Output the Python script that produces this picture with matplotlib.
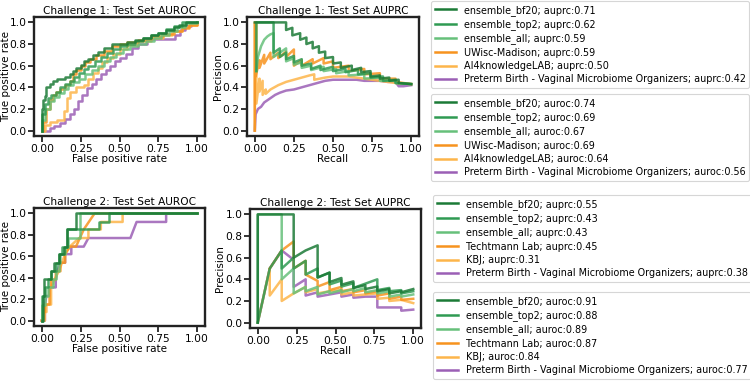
import matplotlib
matplotlib.use("Agg")
import matplotlib.pyplot as plt

# ---------------- colours / names ----------------
C_BF20 = "#1b7a36"
C_TOP2 = "#2f9a52"
C_ALL = "#66c07a"
C_OR1 = "#f7931e"
C_OR2 = "#fdb54a"
C_PUR = "#9b5fb5"

c1_names = ["ensemble_bf20", "ensemble_top2", "ensemble_all", "UWisc-Madison",
            "AI4knowledgeLAB", "Preterm Birth - Vaginal Microbiome Organizers"]
c1_auprc = [0.71, 0.62, 0.59, 0.59, 0.50, 0.42]
c1_auroc = [0.74, 0.69, 0.67, 0.69, 0.64, 0.56]
c2_names = ["ensemble_bf20", "ensemble_top2", "ensemble_all", "Techtmann Lab",
            "KBJ", "Preterm Birth - Vaginal Microbiome Organizers"]
c2_auprc = [0.55, 0.43, 0.43, 0.45, 0.31, 0.38]
c2_auroc = [0.91, 0.88, 0.89, 0.87, 0.84, 0.77]
colors = [C_BF20, C_TOP2, C_ALL, C_OR1, C_OR2, C_PUR]

# ---------------- Challenge 1 ROC (steps) ----------------
c1_roc_bf20_fpr = [0, 0, 0.01, 0.02, 0.03, 0.05, 0.07, 0.10, 0.15, 0.18, 0.20, 0.22, 0.25, 0.27, 0.30, 0.33, 0.36, 0.40, 0.45, 0.55, 0.60, 0.65, 0.70, 0.75, 0.80, 0.85, 0.88, 0.93, 1.0]
c1_roc_bf20_tpr = [0, 0.20, 0.28, 0.32, 0.40, 0.43, 0.46, 0.48, 0.50, 0.52, 0.55, 0.58, 0.61, 0.64, 0.66, 0.70, 0.73, 0.76, 0.80, 0.82, 0.84, 0.86, 0.88, 0.90, 0.93, 0.96, 0.98, 1.0, 1.0]
c1_roc_top2_fpr = [0, 0, 0.02, 0.04, 0.06, 0.09, 0.12, 0.15, 0.18, 0.21, 0.24, 0.27, 0.30, 0.34, 0.38, 0.42, 0.46, 0.50, 0.55, 0.60, 0.65, 0.70, 0.75, 0.80, 0.85, 0.90, 1.0]
c1_roc_top2_tpr = [0, 0.15, 0.25, 0.30, 0.33, 0.36, 0.40, 0.43, 0.46, 0.50, 0.53, 0.57, 0.60, 0.64, 0.68, 0.72, 0.75, 0.78, 0.80, 0.83, 0.86, 0.88, 0.90, 0.94, 0.97, 1.0, 1.0]
c1_roc_all_fpr = [0, 0, 0.02, 0.05, 0.08, 0.11, 0.14, 0.17, 0.20, 0.24, 0.28, 0.32, 0.36, 0.40, 0.44, 0.48, 0.52, 0.57, 0.62, 0.67, 0.72, 0.77, 0.82, 0.87, 0.92, 1.0]
c1_roc_all_tpr = [0, 0.10, 0.20, 0.27, 0.31, 0.35, 0.38, 0.42, 0.45, 0.48, 0.52, 0.56, 0.60, 0.64, 0.68, 0.72, 0.75, 0.78, 0.80, 0.83, 0.86, 0.88, 0.92, 0.96, 0.99, 1.0]
c1_roc_uw_fpr = [0, 0.01, 0.03, 0.05, 0.07, 0.09, 0.12, 0.15, 0.18, 0.20, 0.22, 0.25, 0.28, 0.31, 0.35, 0.40, 0.45, 0.50, 0.55, 0.62, 0.70, 0.78, 0.85, 0.90, 0.95, 1.0]
c1_roc_uw_tpr = [0, 0.08, 0.20, 0.28, 0.33, 0.36, 0.38, 0.42, 0.46, 0.52, 0.56, 0.60, 0.63, 0.66, 0.70, 0.74, 0.78, 0.80, 0.82, 0.84, 0.87, 0.89, 0.92, 0.95, 0.98, 1.0]
c1_roc_ai_fpr = [0, 0.02, 0.05, 0.10, 0.14, 0.16, 0.18, 0.22, 0.27, 0.30, 0.33, 0.36, 0.39, 0.42, 0.46, 0.50, 0.55, 0.62, 0.70, 0.78, 0.84, 0.90, 0.95, 1.0]
c1_roc_ai_tpr = [0, 0.05, 0.08, 0.10, 0.18, 0.30, 0.36, 0.40, 0.42, 0.48, 0.53, 0.58, 0.63, 0.67, 0.71, 0.75, 0.79, 0.83, 0.86, 0.88, 0.92, 0.96, 0.98, 1.0]
c1_roc_pur_fpr = [0, 0.05, 0.08, 0.12, 0.15, 0.18, 0.21, 0.23, 0.26, 0.29, 0.32, 0.35, 0.38, 0.41, 0.44, 0.47, 0.50, 0.54, 0.58, 0.62, 0.68, 0.86, 0.89, 0.92, 0.96, 1.0]
c1_roc_pur_tpr = [0, 0.02, 0.04, 0.07, 0.11, 0.15, 0.20, 0.27, 0.33, 0.39, 0.43, 0.48, 0.52, 0.56, 0.60, 0.64, 0.67, 0.71, 0.76, 0.80, 0.85, 0.88, 0.93, 0.97, 0.99, 1.0]

# ---------------- Challenge 1 PR ----------------
c1_pr_bf20_rec = [0, 0.20, 0.20, 0.24, 0.24, 0.29, 0.29, 0.33, 0.33, 0.37, 0.37, 0.41, 0.41, 0.45, 0.45, 0.50, 0.50, 0.55, 0.55, 0.62, 0.62, 0.68, 0.68, 0.74, 0.74, 0.80, 0.80, 0.86, 0.86, 0.92, 0.92, 1.0]
c1_pr_bf20_prec = [1.0, 1.0, 0.93, 0.95, 0.88, 0.90, 0.84, 0.86, 0.80, 0.82, 0.76, 0.78, 0.72, 0.73, 0.67, 0.68, 0.62, 0.63, 0.58, 0.60, 0.56, 0.58, 0.54, 0.55, 0.50, 0.51, 0.48, 0.49, 0.46, 0.47, 0.44, 0.43]
c1_pr_top2_rec = [0.01, 0.01, 0.12, 0.12, 0.16, 0.16, 0.20, 0.20, 0.25, 0.25, 0.30, 0.30, 0.36, 0.36, 0.42, 0.42, 0.50, 0.50, 0.58, 0.58, 0.66, 0.66, 0.74, 0.74, 0.82, 0.82, 0.90, 0.90, 1.0]
c1_pr_top2_prec = [0.55, 1.0, 1.0, 0.72, 0.76, 0.68, 0.72, 0.66, 0.69, 0.63, 0.66, 0.60, 0.62, 0.57, 0.60, 0.56, 0.59, 0.55, 0.57, 0.54, 0.56, 0.52, 0.53, 0.49, 0.50, 0.46, 0.47, 0.44, 0.43]
c1_pr_all_rec = [0.01, 0.02, 0.04, 0.06, 0.08, 0.10, 0.12, 0.12, 0.16, 0.20, 0.20, 0.25, 0.25, 0.30, 0.30, 0.36, 0.36, 0.44, 0.44, 0.52, 0.52, 0.60, 0.60, 0.70, 0.70, 0.80, 0.80, 0.90, 0.90, 1.0]
c1_pr_all_prec = [0.55, 0.68, 0.78, 0.84, 0.87, 0.89, 0.90, 0.68, 0.72, 0.76, 0.64, 0.67, 0.61, 0.63, 0.58, 0.60, 0.56, 0.59, 0.55, 0.57, 0.53, 0.55, 0.51, 0.52, 0.48, 0.49, 0.46, 0.46, 0.44, 0.43]
c1_pr_uw_rec = [0, 0, 0.005, 0.005, 0.03, 0.03, 0.06, 0.06, 0.10, 0.10, 0.15, 0.15, 0.20, 0.20, 0.25, 0.25, 0.30, 0.30, 0.37, 0.37, 0.44, 0.44, 0.50, 0.50, 0.60, 0.60, 0.70, 0.70, 0.80, 0.80, 0.90, 0.90, 1.0]
c1_pr_uw_prec = [0, 1.0, 1.0, 0.50, 0.65, 0.58, 0.70, 0.62, 0.72, 0.66, 0.72, 0.67, 0.73, 0.68, 0.75, 0.60, 0.65, 0.60, 0.66, 0.62, 0.67, 0.62, 0.64, 0.58, 0.60, 0.55, 0.57, 0.52, 0.53, 0.48, 0.48, 0.45, 0.43]
c1_pr_ai_rec = [0, 0, 0.01, 0.01, 0.03, 0.03, 0.05, 0.05, 0.07, 0.07, 0.10, 0.15, 0.20, 0.25, 0.30, 0.35, 0.38, 0.38, 0.45, 0.50, 0.55, 0.60, 0.65, 0.70, 0.80, 0.90, 1.0]
c1_pr_ai_prec = [0, 1.0, 1.0, 0.25, 0.48, 0.36, 0.46, 0.33, 0.38, 0.34, 0.38, 0.42, 0.45, 0.47, 0.49, 0.51, 0.52, 0.47, 0.49, 0.50, 0.50, 0.50, 0.49, 0.48, 0.46, 0.44, 0.43]
c1_pr_pur_rec = [0, 0.005, 0.02, 0.04, 0.06, 0.08, 0.10, 0.13, 0.16, 0.20, 0.25, 0.30, 0.35, 0.40, 0.45, 0.50, 0.55, 0.60, 0.65, 0.70, 0.75, 0.80, 0.85, 0.90, 0.92, 0.95, 1.0]
c1_pr_pur_prec = [0, 0.15, 0.20, 0.22, 0.26, 0.28, 0.30, 0.33, 0.35, 0.37, 0.38, 0.40, 0.42, 0.44, 0.46, 0.47, 0.47, 0.47, 0.47, 0.46, 0.46, 0.46, 0.45, 0.45, 0.41, 0.41, 0.42]

# ---------------- Challenge 2 ROC (polylines) ----------------
c2_roc_bf20_fpr = [0, 0.006, 0.006, 0.013, 0.013, 0.058, 0.058, 0.08, 0.08, 0.11, 0.11, 0.14, 0.14, 0.164, 0.164, 0.218, 0.218, 1.0]
c2_roc_bf20_tpr = [0, 0, 0.23, 0.23, 0.385, 0.385, 0.46, 0.46, 0.54, 0.54, 0.62, 0.62, 0.69, 0.69, 0.85, 0.85, 1.0, 1.0]
c2_roc_top2_fpr = [0, 0, 0.02, 0.02, 0.04, 0.04, 0.06, 0.06, 0.09, 0.09, 0.11, 0.11, 0.13, 0.13, 0.16, 0.16, 0.37, 0.37, 0.43, 0.43, 1.0]
c2_roc_top2_tpr = [0, 0.23, 0.23, 0.31, 0.31, 0.385, 0.385, 0.46, 0.46, 0.54, 0.54, 0.62, 0.62, 0.69, 0.69, 0.85, 0.85, 0.92, 0.92, 1.0, 1.0]
c2_roc_all_fpr = [0, 0, 0.02, 0.02, 0.04, 0.04, 0.07, 0.07, 0.09, 0.09, 0.11, 0.11, 0.12, 0.12, 0.15, 0.15, 0.17, 0.17, 0.245, 0.245, 1.0]
c2_roc_all_tpr = [0, 0.15, 0.15, 0.23, 0.23, 0.31, 0.31, 0.385, 0.385, 0.46, 0.46, 0.54, 0.54, 0.62, 0.62, 0.69, 0.69, 0.77, 0.77, 1.0, 1.0]
c2_roc_tl_fpr = [0, 0.01, 0.01, 0.02, 0.02, 0.05, 0.05, 0.06, 0.06, 0.09, 0.09, 0.12, 0.12, 0.15, 0.15, 0.18, 0.22, 0.27, 0.34, 1.0]
c2_roc_tl_tpr = [0, 0, 0.08, 0.08, 0.15, 0.15, 0.31, 0.31, 0.38, 0.38, 0.46, 0.46, 0.54, 0.54, 0.62, 0.69, 0.69, 0.85, 1.0, 1.0]
c2_roc_kbj_fpr = [0, 0.02, 0.02, 0.03, 0.03, 0.06, 0.06, 0.08, 0.11, 0.13, 0.15, 0.18, 0.24, 0.30, 0.30, 0.38, 0.38, 0.52, 0.52, 1.0]
c2_roc_kbj_tpr = [0, 0, 0.08, 0.08, 0.15, 0.15, 0.31, 0.38, 0.46, 0.54, 0.62, 0.69, 0.77, 0.77, 0.85, 0.85, 0.92, 0.92, 1.0, 1.0]
c2_roc_pur_fpr = [0, 0.02, 0.02, 0.03, 0.05, 0.05, 0.09, 0.09, 0.10, 0.12, 0.15, 0.15, 0.19, 0.19, 0.27, 0.30, 0.57, 0.61, 0.80, 0.80, 1.0]
c2_roc_pur_tpr = [0, 0, 0.15, 0.23, 0.23, 0.31, 0.31, 0.38, 0.46, 0.54, 0.54, 0.62, 0.62, 0.69, 0.69, 0.77, 0.77, 0.92, 0.92, 1.0, 1.0]

# ---------------- Challenge 2 PR (polylines) ----------------
c2_pr_bf20_rec = [0, 0, 0.231, 0.231, 0.308, 0.385, 0.385, 0.462, 0.462, 0.538, 0.538, 0.615, 0.615, 0.692, 0.692, 0.769, 0.769, 0.846, 0.846, 0.923, 0.923, 1.0]
c2_pr_bf20_prec = [0, 1.0, 1.0, 0.60, 0.667, 0.714, 0.417, 0.462, 0.375, 0.412, 0.35, 0.381, 0.32, 0.346, 0.31, 0.333, 0.29, 0.31, 0.27, 0.29, 0.28, 0.31]
c2_pr_top2_rec = [0, 0.077, 0.154, 0.154, 0.231, 0.231, 0.308, 0.308, 0.385, 0.385, 0.462, 0.462, 0.538, 0.538, 0.615, 0.615, 0.769, 0.769, 0.846, 0.846, 0.923, 0.923, 1.0]
c2_pr_top2_prec = [0, 0.5, 0.667, 0.5, 0.6, 0.5, 0.571, 0.444, 0.5, 0.417, 0.462, 0.353, 0.389, 0.333, 0.364, 0.32, 0.40, 0.30, 0.32, 0.29, 0.30, 0.27, 0.29]
c2_pr_all_rec = [0, 0, 0.154, 0.154, 0.231, 0.231, 0.308, 0.308, 0.385, 0.385, 0.462, 0.462, 0.538, 0.538, 0.615, 0.615, 0.692, 0.692, 0.769, 0.769, 0.846, 0.846, 0.923, 0.923, 1.0]
c2_pr_all_prec = [0, 1.0, 1.0, 0.4, 0.5, 0.27, 0.33, 0.29, 0.33, 0.26, 0.29, 0.27, 0.30, 0.28, 0.31, 0.29, 0.32, 0.28, 0.30, 0.27, 0.29, 0.24, 0.26, 0.24, 0.26]
c2_pr_tl_rec = [0.077, 0.154, 0.231, 0.231, 0.308, 0.308, 0.385, 0.385, 0.462, 0.462, 0.538, 0.538, 0.615, 0.615, 0.692, 0.692, 0.769, 0.769, 0.846, 0.846, 0.923, 0.923, 1.0]
c2_pr_tl_prec = [0.5, 0.667, 0.75, 0.5, 0.571, 0.444, 0.385, 0.333, 0.375, 0.30, 0.33, 0.29, 0.31, 0.28, 0.30, 0.27, 0.29, 0.25, 0.27, 0.22, 0.24, 0.21, 0.22]
c2_pr_kbj_rec = [0, 0.077, 0.077, 0.154, 0.154, 0.231, 0.308, 0.308, 0.385, 0.385, 0.462, 0.538, 0.538, 0.615, 0.615, 0.692, 0.769, 0.769, 0.846, 0.846, 0.923, 1.0]
c2_pr_kbj_prec = [0, 0.5, 0.25, 0.4, 0.2, 0.27, 0.33, 0.28, 0.31, 0.27, 0.29, 0.30, 0.26, 0.28, 0.25, 0.26, 0.27, 0.22, 0.23, 0.20, 0.21, 0.18]
c2_pr_pur_rec = [0, 0.077, 0.154, 0.231, 0.231, 0.308, 0.308, 0.385, 0.385, 0.462, 0.538, 0.538, 0.615, 0.615, 0.692, 0.769, 0.769, 0.923, 0.923, 1.0]
c2_pr_pur_prec = [0, 0.5, 0.667, 0.58, 0.33, 0.40, 0.25, 0.28, 0.24, 0.26, 0.28, 0.24, 0.26, 0.23, 0.24, 0.24, 0.14, 0.14, 0.11, 0.12]

# ---------------- figure ----------------
W, H = 750, 381
fig = plt.figure(figsize=(W / 100, H / 100), dpi=100)
plt.rcParams['font.family'] = ['DejaVu Sans']

def px_axes(l, t, r, b):
    return fig.add_axes([l / W, 1 - b / H, (r - l) / W, (b - t) / H])

ax_tl = px_axes(34, 17, 205, 136)
ax_tr = px_axes(247, 17, 419, 136)
ax_bl = px_axes(34, 208, 205, 326)
ax_br = px_axes(250, 209, 421, 328)

LW = 1.8
ALPHA = 0.85

def style(ax, title, xl, yl, ylab_right_px):
    ax.set_title(title, fontsize=7.6, pad=2)
    ax.set_xlabel(xl, fontsize=7.5, labelpad=0.5)
    ax.set_ylabel(yl, fontsize=7.5)
    bb = ax.get_position()
    ax.yaxis.set_label_coords(-ylab_right_px / (bb.width * W), 0.5)
    ax.set_xlim(-0.05, 1.05)
    ax.set_ylim(-0.05, 1.05)
    ax.set_xticks([0, 0.25, 0.5, 0.75, 1.0])
    ax.set_yticks([0, 0.2, 0.4, 0.6, 0.8, 1.0])
    ax.tick_params(labelsize=7.7, length=4, width=1.4, pad=1.5, color="#333333")
    for s in ax.spines.values():
        s.set_linewidth(1.7)
        s.set_color("#222222")

c1_roc = [(c1_roc_bf20_fpr, c1_roc_bf20_tpr), (c1_roc_top2_fpr, c1_roc_top2_tpr),
          (c1_roc_all_fpr, c1_roc_all_tpr), (c1_roc_uw_fpr, c1_roc_uw_tpr),
          (c1_roc_ai_fpr, c1_roc_ai_tpr), (c1_roc_pur_fpr, c1_roc_pur_tpr)]
c1_pr = [(c1_pr_bf20_rec, c1_pr_bf20_prec), (c1_pr_top2_rec, c1_pr_top2_prec),
         (c1_pr_all_rec, c1_pr_all_prec), (c1_pr_uw_rec, c1_pr_uw_prec),
         (c1_pr_ai_rec, c1_pr_ai_prec), (c1_pr_pur_rec, c1_pr_pur_prec)]
c2_roc = [(c2_roc_bf20_fpr, c2_roc_bf20_tpr), (c2_roc_top2_fpr, c2_roc_top2_tpr),
          (c2_roc_all_fpr, c2_roc_all_tpr), (c2_roc_tl_fpr, c2_roc_tl_tpr),
          (c2_roc_kbj_fpr, c2_roc_kbj_tpr), (c2_roc_pur_fpr, c2_roc_pur_tpr)]
c2_pr = [(c2_pr_bf20_rec, c2_pr_bf20_prec), (c2_pr_top2_rec, c2_pr_top2_prec),
         (c2_pr_all_rec, c2_pr_all_prec), (c2_pr_tl_rec, c2_pr_tl_prec),
         (c2_pr_kbj_rec, c2_pr_kbj_prec), (c2_pr_pur_rec, c2_pr_pur_prec)]

order = [5, 4, 3, 2, 1, 0]  # draw ensembles on top

def draw(ax, curves, labels, steps=False):
    handles = [None] * 6
    for i in order:
        x, y = curves[i]
        kw = dict(color=colors[i], lw=LW, alpha=ALPHA, label=labels[i])
        if steps:
            h, = ax.plot(x, y, drawstyle="steps-post", **kw)
        else:
            h, = ax.plot(x, y, **kw)
        handles[i] = h
    return handles

h1 = draw(ax_tl, c1_roc, [f"{n}; auroc:{v:.2f}" for n, v in zip(c1_names, c1_auroc)], steps=True)
h2 = draw(ax_tr, c1_pr, [f"{n}; auprc:{v:.2f}" for n, v in zip(c1_names, c1_auprc)])
h3 = draw(ax_bl, c2_roc, [f"{n}; auroc:{v:.2f}" for n, v in zip(c2_names, c2_auroc)])
h4 = draw(ax_br, c2_pr, [f"{n}; auprc:{v:.2f}" for n, v in zip(c2_names, c2_auprc)])

style(ax_tl, "Challenge 1: Test Set AUROC", "False positive rate", "True positive rate", 23)
style(ax_tr, "Challenge 1: Test Set AUPRC", "Recall", "Precision", 24)
style(ax_bl, "Challenge 2: Test Set AUROC", "False positive rate", "True positive rate", 23)
style(ax_br, "Challenge 2: Test Set AUPRC", "Recall", "Precision", 25)

leg_kw = dict(loc="upper left", fontsize=6.9, frameon=True, handlelength=2.2,
              borderpad=0.4, labelspacing=0.35, handletextpad=0.8, borderaxespad=0)

def add_leg(handles, l, t):
    lg = fig.legend(handles=handles, bbox_to_anchor=(l / W, 1 - t / H), **leg_kw)
    lg.get_frame().set_linewidth(0.8)
    for line in lg.get_lines():
        line.set_alpha(1.0)
    return lg

add_leg(h2, 431, 1)
add_leg(h1, 431, 94)
add_leg(h4, 433, 195)
add_leg(h3, 433, 292)

fig.savefig("out.png", dpi=100)
